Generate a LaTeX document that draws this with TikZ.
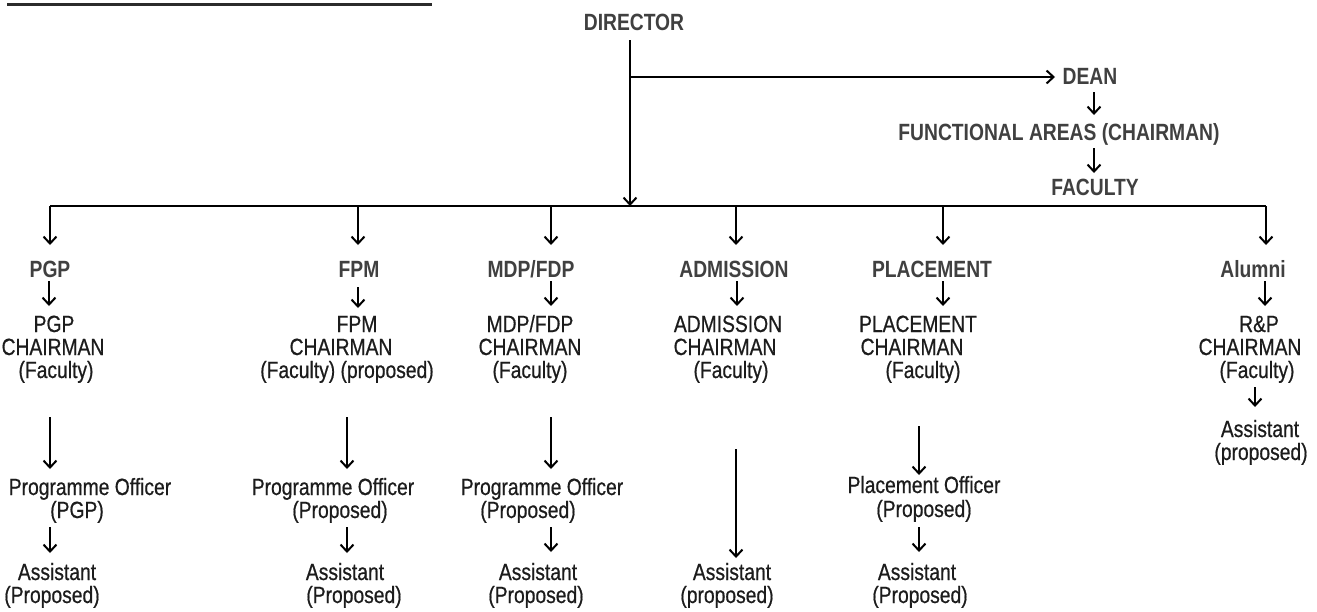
\documentclass[tikz,border=0pt]{standalone}
\usepackage{fontspec}
\setmainfont{Liberation Sans}[FakeStretch=0.82, UprightFeatures={FakeBold=0.6}]
\usetikzlibrary{arrows.meta}
\definecolor{headc}{RGB}{64,64,64}
\definecolor{txtc}{RGB}{28,28,28}
\definecolor{barc}{RGB}{43,43,43}
\begin{document}
\begin{tikzpicture}[x=1pt,y=-1pt,
  hd/.style={font=\fontsize{23.5}{28}\selectfont\bfseries, text=headc, inner sep=0pt, anchor=base},
  tx/.style={font=\fontsize{23.5}{28}\selectfont, text=txtc, inner sep=0pt, anchor=base},
  arr/.style={line width=2pt, -{Straight Barb[length=7pt,width=13pt]}},
  ln/.style={line width=2pt}]
\useasboundingbox (0,0) rectangle (1317,611);
% top bar
\draw[barc, line width=3pt] (7,4.5) -- (432,4.5);
% top part
\node[hd] (dir)  at (634,30)  {DIRECTOR};
\node[hd] (dean) at (1090,84) {DEAN};
\node[hd] (func) at (1059,140) {FUNCTIONAL AREAS (CHAIRMAN)};
\node[hd] (fac)  at (1095,195) {FACULTY};
\coordinate (br) at (630,77);
\coordinate (jn) at (630,206);
\coordinate (d1) at (50,206);
\coordinate (d2) at (358,206);
\coordinate (d3) at (551,206);
\coordinate (d4) at (736,206);
\coordinate (d5) at (943,206);
\coordinate (d6) at (1266,206);
\draw[arr] ([xshift=-4pt,yshift=-10pt]dir.base) -- (jn);
\draw[arr] (br) -- ([xshift=-35pt,yshift=7pt]dean.base);
\draw[arr] ([xshift=4pt,yshift=-8pt]dean.base) -- ([xshift=35pt,yshift=25pt]func.base);
\draw[arr] ([xshift=35pt,yshift=-8pt]func.base) -- ([xshift=-1pt,yshift=22pt]fac.base);
\draw[ln] (d1) -- (d6);
% headers
\node[hd] (pgp) at (50,277)   {PGP};
\node[hd] (fpm) at (359,277)  {FPM};
\node[hd] (mdp) at (531,277)  {MDP/FDP};
\node[hd] (adm) at (734,277)  {ADMISSION};
\node[hd] (plc) at (932,277)  {PLACEMENT};
\node[hd] (alu) at (1253,277) {Alumni};
\draw[arr] (d1) -- ([yshift=32pt]pgp.base);
\draw[arr] (d2) -- ([xshift=-1pt,yshift=32pt]fpm.base);
\draw[arr] (d3) -- ([xshift=20pt,yshift=32pt]mdp.base);
\draw[arr] (d4) -- ([xshift=2pt,yshift=32pt]adm.base);
\draw[arr] (d5) -- ([xshift=11pt,yshift=32pt]plc.base);
\draw[arr] (d6) -- ([xshift=13pt,yshift=32pt]alu.base);
% chairman blocks
\node[tx] (pgpc1) at (54,332)  {PGP};
\node[tx] (pgpc2) at (53,355)  {CHAIRMAN};
\node[tx] (pgpc3) at (56,378)  {(Faculty)};
\node[tx] (fpmc1) at (357,332) {FPM};
\node[tx] (fpmc2) at (341,355) {CHAIRMAN};
\node[tx] (fpmc3) at (347,378) {(Faculty) (proposed)};
\node[tx] (mdpc1) at (530,332) {MDP/FDP};
\node[tx] (mdpc2) at (530,355) {CHAIRMAN};
\node[tx] (mdpc3) at (530,378) {(Faculty)};
\node[tx] (admc1) at (728,332) {ADMISSION};
\node[tx] (admc2) at (725,355) {CHAIRMAN};
\node[tx] (admc3) at (731,378) {(Faculty)};
\node[tx] (plcc1) at (918,332) {PLACEMENT};
\node[tx] (plcc2) at (912,355) {CHAIRMAN};
\node[tx] (plcc3) at (923,378) {(Faculty)};
\node[tx] (aluc1) at (1259,332) {R\&P};
\node[tx] (aluc2) at (1250,355) {CHAIRMAN};
\node[tx] (aluc3) at (1257,378) {(Faculty)};
\draw[arr] ([xshift=-1pt,yshift=-4pt]pgp.base) -- ([xshift=-5pt,yshift=26pt]pgpc1.base);
\draw[arr] ([xshift=-1pt,yshift=-10pt]fpm.base) -- ([xshift=1pt,yshift=24pt]fpmc1.base);
\draw[arr] ([xshift=20pt,yshift=-4pt]mdp.base) -- ([xshift=21pt,yshift=26pt]mdpc1.base);
\draw[arr] ([xshift=3pt,yshift=-4pt]adm.base) -- ([xshift=9pt,yshift=26pt]admc1.base);
\draw[arr] ([xshift=11pt,yshift=-4pt]plc.base) -- ([xshift=25pt,yshift=26pt]plcc1.base);
\draw[arr] ([xshift=12pt,yshift=-4pt]alu.base) -- ([xshift=6pt,yshift=26pt]aluc1.base);
% alumni assistant
\node[tx] (aluA1) at (1260,437) {Assistant};
\node[tx] (aluA2) at (1261,460) {(proposed)};
\draw[arr] ([xshift=-2pt,yshift=-9pt]aluc3.base) -- ([xshift=-5pt,yshift=30pt]aluA1.base);
% officers
\node[tx] (pgpo1) at (90,495)  {Programme Officer};
\node[tx] (pgpo2) at (77,518)  {(PGP)};
\node[tx] (fpmo1) at (333,495) {Programme Officer};
\node[tx] (fpmo2) at (340,518) {(Proposed)};
\node[tx] (mdpo1) at (542,495) {Programme Officer};
\node[tx] (mdpo2) at (528,518) {(Proposed)};
\node[tx] (plco1) at (924,493) {Placement Officer};
\node[tx] (plco2) at (924,517) {(Proposed)};
% assistants
\node[tx] (pgpa1) at (57,580)  {Assistant};
\node[tx] (pgpa2) at (52,603)  {(Proposed)};
\node[tx] (fpma1) at (345,580) {Assistant};
\node[tx] (fpma2) at (354,603) {(Proposed)};
\node[tx] (mdpa1) at (538,580) {Assistant};
\node[tx] (mdpa2) at (536,603) {(Proposed)};
\node[tx] (adma1) at (732,580) {Assistant};
\node[tx] (adma2) at (727,603) {(proposed)};
\node[tx] (plca1) at (917,580) {Assistant};
\node[tx] (plca2) at (920,603) {(Proposed)};
% chairman -> officer
\draw[arr] ([xshift=-6pt,yshift=-39pt]pgpc3.base) -- ([xshift=-40pt,yshift=26pt]pgpo1.base);
\draw[arr] ([yshift=-39pt]fpmc3.base) -- ([xshift=14pt,yshift=26pt]fpmo1.base);
\draw[arr] ([xshift=21pt,yshift=-39pt]mdpc3.base) -- ([xshift=9pt,yshift=26pt]mdpo1.base);
\draw[arr] ([xshift=5pt,yshift=-71pt]admc3.base) -- ([xshift=4pt,yshift=22pt]adma1.base);
\draw[arr] ([xshift=-4pt,yshift=-48pt]plcc3.base) -- ([xshift=-5pt,yshift=18pt]plco1.base);
% officer -> assistant
\draw[arr] ([xshift=-27pt,yshift=-9pt]pgpo2.base) -- ([xshift=-7pt,yshift=27pt]pgpa1.base);
\draw[arr] ([xshift=7pt,yshift=-9pt]fpmo2.base) -- ([xshift=2pt,yshift=27pt]fpma1.base);
\draw[arr] ([xshift=23pt,yshift=-9pt]mdpo2.base) -- ([xshift=13pt,yshift=28pt]mdpa1.base);
\draw[arr] ([xshift=-5pt,yshift=-10pt]plco2.base) -- ([xshift=2pt,yshift=28pt]plca1.base);
\end{tikzpicture}
\end{document}
